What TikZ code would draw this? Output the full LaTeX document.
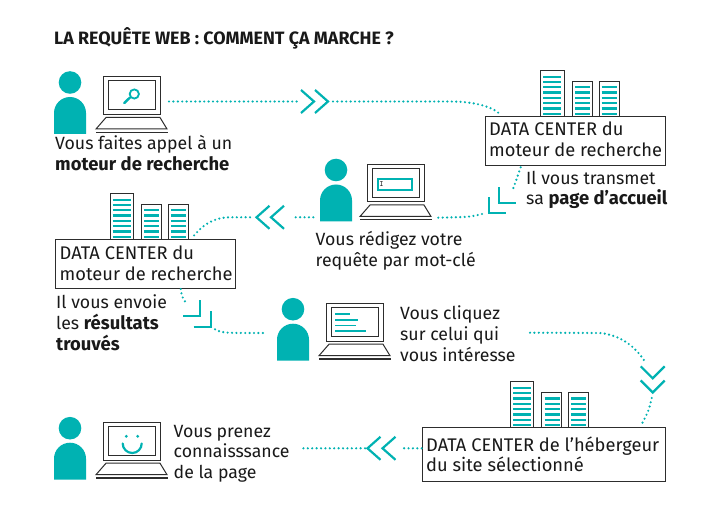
\documentclass[tikz,border=0pt]{standalone}
\usepackage{fontspec}
\setmainfont[BoldFeatures={Scale=1.04}]{Fira Sans}
\definecolor{teal1}{RGB}{0,178,178}
\definecolor{ink}{RGB}{25,25,25}
\definecolor{edge}{RGB}{45,45,45}
\tikzset{
  x=1pt,y=-1pt,
  lbl/.style={anchor=base west,inner sep=0pt,align=left,text=ink,font=\fontsize{17.7}{20.7}\selectfont},
  dclbl/.style={lbl,font=\fontsize{18.3}{20.7}\selectfont},
  boxed/.style={draw=edge,line width=1pt,fill=white,inner sep=0pt,rectangle},
  dots/.style={teal1,line width=2.4pt,line cap=round,dash pattern=on 0pt off 4.4pt},
  chev/.style={teal1,line width=2.2pt},
  frame/.style={draw=edge,line width=1pt},
  stripe/.style={teal1,line width=2.3pt},
  pics/person/.style={code={
    \fill[teal1] (0,-51.5) circle (11.3);
    \fill[teal1] (-16,0) -- (-16,-21) arc[start angle=180,end angle=360,radius=16] -- (16,0) -- cycle;
  }},
  pics/laptop/.style={code={
    \draw[frame] (33,-57) rectangle (90,-19.5);
    \draw[frame] (38,-53) rectangle (85.5,-24);
    \draw[frame] (36,-16.5) -- (90,-16.5) -- (97,-5) -- (26,-5) -- cycle;
    \draw[edge,line width=1.1pt] (26,-1.7) -- (98,-1.7);
  }},
  pics/towers/.style={code={
    \draw[frame,fill=white] (0,45) -- (0,0) -- (23.5,0) -- (23.5,45);
    \draw[frame,fill=white] (31.5,45) -- (31.5,11) -- (51.5,11) -- (51.5,45);
    \draw[frame,fill=white] (58.5,45) -- (58.5,11) -- (78.5,11) -- (78.5,45);
    \foreach \k in {0,...,7}{\draw[stripe] (2.7,6+5.3*\k) -- (20.7,6+5.3*\k);}
    \foreach \k in {2,...,7}{
      \draw[stripe] (34.3,6+5.3*\k) -- (49.3,6+5.3*\k);
      \draw[stripe] (60.8,6+5.3*\k) -- (75.8,6+5.3*\k);}
  }},
  pics/chevr/.style={code={\draw[chev] (-13,-11.5) -- (0,0) -- (-13,11.5);}},
  pics/chevl/.style={code={\draw[chev] (13,-11.5) -- (0,0) -- (13,11.5);}},
  pics/chevd/.style={code={\draw[chev] (-12,-12) -- (0,0) -- (12,-12);}},
  pics/cornerl/.style={code={\draw[chev] (0,-17) -- (0,-1) -- (17,-1);}},
  pics/cornerr/.style={code={\draw[chev] (-17,0) -- (0,0) -- (0,-16);}},
}
\begin{document}
\begin{tikzpicture}
\useasboundingbox (0,0) rectangle (721,508);
\fill[white] (0,0) rectangle (721,508);
\node[anchor=base west,inner sep=0pt,text=ink,font=\fontsize{17.2}{20}\selectfont\bfseries] (title) at (54,44.5) {LA REQUÊTE WEB : COMMENT ÇA MARCHE ?};

% scene 1
\pic at (70,134) {person};
\pic at (70,134) {laptop};
\draw[teal1,line width=2.4pt,line cap=round] (124.3,103) -- (130,97.5);
\draw[teal1,line width=1.8pt] (134.3,94) circle (4.6);
\node[lbl] (t1) at (55,170.7) {Vous faites appel à un\\\textbf{moteur de recherche}};

% data center 1
\pic at (540.7,70.7) {towers};
\node[boxed,minimum width=180pt,minimum height=49.5pt,anchor=north west] (dc1) at (485,115.7) {};
\node[dclbl] (dc1t) at (489,156.7) {DATA CENTER du\\moteur de recherche};
\node[lbl] (t2) at (526,205) {Il vous transmet\\sa \textbf{page d’accueil}};

% scene 2
\pic at (336,221.5) {person};
\pic at (334,221.5) {laptop};
\draw[teal1,line width=2pt] (378,179) rectangle (411.5,190);
\node[inner sep=0pt,font=\fontsize{8}{8}\selectfont\ttfamily,text=ink] (cursor) at (381.5,184.5) {I};
\node[lbl] (t3) at (315.5,266.7) {Vous rédigez votre\\requête par mot-clé};

% data center 2
\pic at (110,193.7) {towers};
\node[boxed,minimum width=180pt,minimum height=49.5pt,anchor=north west] (dc2) at (55,238.7) {};
\node[dclbl] (dc2t) at (59.5,280) {DATA CENTER du\\moteur de recherche};
\node[lbl] (t4) at (56,350) {Il vous envoie\\les \textbf{résultats}\\\textbf{trouvés}};

% scene 3
\pic at (293,360.7) {person};
\pic at (293,360.7) {laptop};
\draw[stripe,line width=1.9pt] (335,314) -- (350,314);
\draw[stripe,line width=1.9pt] (335,320) -- (358,320);
\draw[stripe,line width=1.9pt] (335,325.5) -- (356,325.5);
\draw[stripe,line width=1.9pt] (335,331) -- (366,331);
\node[lbl] (t5) at (400,361) {Vous cliquez\\sur celui qui\\vous intéresse};

% data center 3
\pic at (510.3,381.9) {towers};
\node[boxed,minimum width=243.3pt,minimum height=54.3pt,anchor=north west] (dc3) at (422,427) {};
\node[dclbl] (dc3t) at (426,471.7) {DATA CENTER de l’hébergeur\\du site sélectionné};

% scene 4
\pic at (70,479.7) {person};
\pic at (70,479.7) {laptop};
\fill[teal1] (126.3,436.3) circle (1.6) (137.7,436.3) circle (1.6);
\draw[teal1,line width=2.2pt,line cap=round] (122.7,443.5) arc[start angle=180,end angle=0,radius=9.5];
\node[lbl] (t6) at (173.5,478.5) {Vous prenez\\connaisssance\\de la page};

% connectors: free ends
\coordinate (a1) at (169,101.5);
\coordinate (a2) at (297,101.5);
\coordinate (a3) at (333,101.5);
\coordinate (a4) at (500,114);
\draw[dots] (a1) -- (a2);
\draw[dots] (a3) -- (450,101.5) .. controls (470,101.5) and (490,105) .. (a4);
\pic at (314,101.5) {chevr};
\pic at (328,101.5) {chevr};

\coordinate (b1) at (520.7,167.3);
\coordinate (b2) at (513.3,188.3);
\coordinate (b3) at (482,214);
\coordinate (b4) at (436.7,217.7);
\draw[dots] (b1) -- (b2);
\draw[dots] (b3) .. controls (470,217) .. (b4);
\pic at (499,204.3) {cornerl};
\pic at (489,214.3) {cornerl};

\coordinate (c1) at (313.3,217.3);
\coordinate (c2) at (291.7,217.3);
\coordinate (c3) at (250,217.3);
\coordinate (c4) at (193,236.7);
\draw[dots] (c1) -- (c2);
\draw[dots] (c3) -- (230,217.3) .. controls (212,217.5) and (202,226) .. (c4);
\pic at (256.5,217.3) {chevl};
\pic at (271,217.3) {chevl};

\coordinate (d1) at (180.7,289);
\coordinate (d2) at (187.3,305);
\coordinate (d3) at (215,329.3);
\coordinate (d4) at (263,333);
\draw[dots] (d1) .. controls (182,297) .. (d2);
\draw[dots] (d3) .. controls (222,333) .. (d4);
\pic at (200,316.3) {cornerr};
\pic at (210.7,327) {cornerr};

\coordinate (e1) at (530,332.7);
\coordinate (e2) at (645,361.7);
\draw[dots] (e1) -- (600,333) .. controls (620,335) and (635,346) .. (e2);
\pic at (652.7,378.3) {chevd};
\pic at (652.7,392.5) {chevd};
\coordinate (e3) at (651.7,398);
\coordinate (e4) at (641.7,424.3);
\draw[dots] (e3) .. controls (649,410) .. (e4);

\coordinate (f1) at (421.7,448.3);
\coordinate (f2) at (400.7,448.3);
\coordinate (f3) at (365,448.3);
\coordinate (f4) at (301.7,448.3);
\draw[dots] (f1) -- (f2);
\draw[dots] (f3) -- (f4);
\pic at (367.5,448.3) {chevl};
\pic at (382.5,448.3) {chevl};
\end{tikzpicture}
\end{document}
